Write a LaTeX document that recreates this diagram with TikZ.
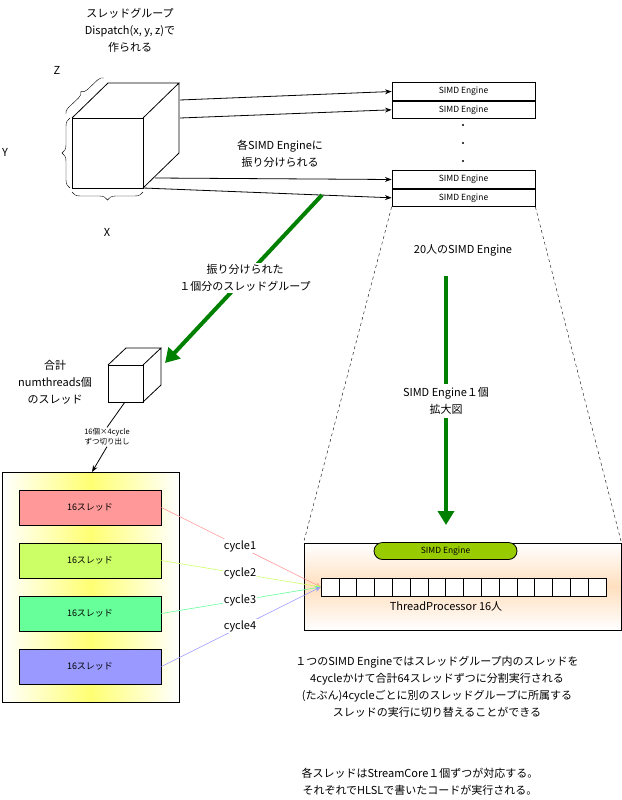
\documentclass[tikz,border=0pt]{standalone}
\usepackage{fontspec}
\setmainfont{Noto Sans CJK JP}
\usepackage{tikz}
\usetikzlibrary{positioning,arrows.meta,decorations.pathreplacing,shapes.misc}
\definecolor{tpred}{HTML}{FF9999}
\definecolor{tpyel}{HTML}{CCFF66}
\definecolor{tpgrn}{HTML}{66FF99}
\definecolor{tpblu}{HTML}{9999FF}
\definecolor{ggreen}{HTML}{008000}
\definecolor{pill}{HTML}{99CC00}
\tikzset{>=Stealth, % arrow heads
every node/.style={font=\fontsize{11}{17}\selectfont, align=center},
engine/.style={draw, thick, minimum width=143pt, minimum height=17.5pt, inner sep=0pt, font=\fontsize{8.5}{10}\selectfont}, % one SIMD engine
threads/.style={draw, thick, minimum width=142pt, minimum height=35pt, font=\fontsize{9}{11}\selectfont}, % 16 threads
cell/.style={draw, fill=white, minimum width=17.8pt, minimum height=18pt, inner sep=0pt},
bigarrow/.style={ggreen, line width=4pt, -{Triangle[length=14pt,width=16pt]}},
cyc/.style={fill=white, inner sep=1pt},
}
\begin{document}
\begin{tikzpicture}[x=1pt,y=-1pt]
\useasboundingbox (0,0) rectangle (621,800);

% title
\node (title) at (130,30) {スレッドグループ\\Dispatch(x, y, z)で\\作られる};

% big cube
\draw[thick] (72,118) rectangle (143,188);
\draw[thick] (72,118) -- (108,83) -- (179,83) -- (143,118) (179,83) -- (179,153) -- (143,188);
\draw[decorate, decoration={brace, amplitude=6pt}] (66,114) -- (104,78);
\draw[decorate, decoration={brace, amplitude=8pt}] (70,188) -- (70,118);
\draw[decorate, decoration={brace, amplitude=8pt}] (143,192) -- (72,192);
\node (lz) at (57,70) {Z};
\node (ly) at (5,152) {Y};
\node (lx) at (107,232) {X};
\coordinate (c1) at (180,100);
\coordinate (c2) at (180,118);
\coordinate (c3) at (155,178);
\coordinate (c4) at (143,188);

% SIMD engines
\node[engine] (e1) at (463.5,91.5) {SIMD Engine};
\node[engine, below=0pt of e1] (e2) {SIMD Engine};
\node[engine] (e3) at (463.5,179.5) {SIMD Engine};
\node[engine, below=0pt of e3] (e4) {SIMD Engine};
\foreach \y in {125,143,161} \fill (463,\y) circle (1.2pt);
\draw[thick,->] (c1) -- (e1.west);
\draw[thick,->] (c2) -- (e2.west);
\draw[thick,->] (c3) -- (e3.west);
\draw[thick,->] (c4) -- (e4.west);
\node (dist) at (280,154) {各SIMD Engineに\\振り分けられる};

% zoom
\node (proc) [draw, thick, minimum width=317pt, minimum height=87pt, inner sep=0pt, top color=white, bottom color=white, middle color=orange!25] at (462.5,586.5) {};
\draw[dashed] (e4.south west) -- (proc.north west);
\draw[dashed] (e4.south east) -- (proc.north east);
\node (cnt) at (463,250) {20人のSIMD Engine};
\node (zoomtxt) at (446,401) {SIMD Engine１個\\拡大図};
\draw[ggreen, line width=4pt] (446,276) -- (zoomtxt.north);
\draw[bigarrow] (zoomtxt.south) -- (446,525);

% one group
\draw[bigarrow] (322,195) -- (165,363);
\node (grp) [fill=white, inner sep=1pt] at (245,278) {振り分けられた\\１個分のスレッドグループ};

% small cube
\draw[thick, fill=white] (108,365) rectangle (143,402);
\draw[thick] (108,365) -- (126,348) -- (161,348) -- (143,365) (161,348) -- (161,385) -- (143,402);
\node (tot) at (55,382) {合計\\numthreads個\\のスレッド};

% thread box
\node (tbox) [draw, thick, minimum width=177pt, minimum height=230pt, inner sep=0pt, left color=white, right color=white, middle color=yellow!55] at (90.5,587) {};
\node (cut) [font=\fontsize{7.5}{10}\selectfont, inner sep=1pt, fill=white] at (107,437) {16個×4cycle\\ずつ切り出し};
\draw[thick] (125,402) -- (cut.north);
\draw[thick,->] (cut.south) -- (92,472);
\node[threads, fill=tpred] (t1) at (90,507.5) {16スレッド};
\node[threads, fill=tpyel] (t2) at (90,560.5) {16スレッド};
\node[threads, fill=tpgrn] (t3) at (90,613.5) {16スレッド};
\node[threads, fill=tpblu] (t4) at (90,666.5) {16スレッド};

% processors
\node[draw, thick, rounded rectangle, fill=pill, minimum width=143pt, minimum height=17pt, inner sep=0pt, font=\fontsize{8.5}{10}\selectfont] (pill) at (445.5,551) {SIMD Engine};
\foreach \i in {1,...,16}
  \node[cell] (p\i) at ({321+8.9+17.8*(\i-1)},587) {};
\node (tp) at (446,606) {ThreadProcessor 16人};

% cycles
\draw[tpred, semithick, ->] (t1.east) -- (p1.west);
\draw[tpyel, semithick, ->] (t2.east) -- (p1.west);
\draw[tpgrn, semithick, ->] (t3.east) -- (p1.west);
\draw[tpblu, semithick, ->] (t4.east) -- (p1.west);
\node[cyc] (cy1) at (240,546) {cycle1};
\node[cyc] (cy2) at (240,573) {cycle2};
\node[cyc] (cy3) at (240,600) {cycle3};
\node[cyc] (cy4) at (240,626) {cycle4};

% notes
\node (note1) at (437,687) {１つのSIMD Engineではスレッドグループ内のスレッドを\\4cycleかけて合計64スレッドずつに分割実行される\\(たぶん)4cycleごとに別のスレッドグループに所属する\\スレッドの実行に切り替えることができる};
\node (note2) at (420,782) {各スレッドはStreamCore１個ずつが対応する。\\それぞれでHLSLで書いたコードが実行される。};
\end{tikzpicture}
\end{document}
